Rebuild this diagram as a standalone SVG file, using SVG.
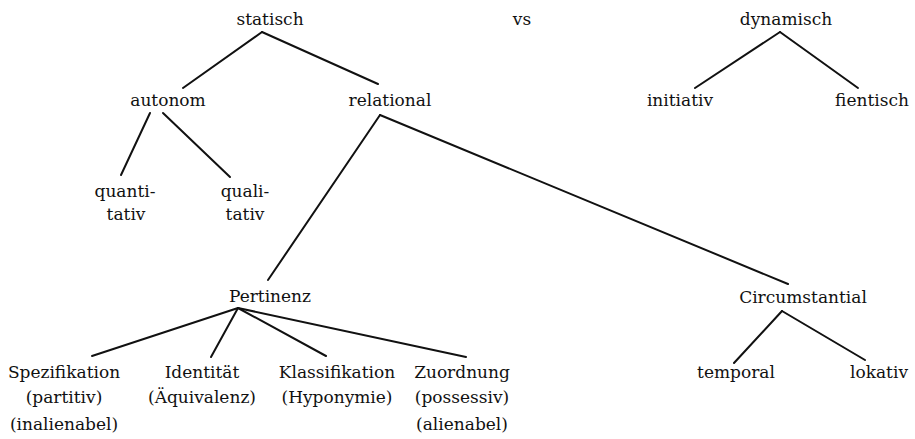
<svg xmlns="http://www.w3.org/2000/svg" width="915" height="439" viewBox="0 0 915 439">
<style>
text{font-family:"DejaVu Serif","Liberation Serif",serif;font-size:17px;fill:#111;text-anchor:middle}
.e line{stroke:#111;stroke-width:2;stroke-linecap:round}
</style>
<rect width="915" height="439" fill="#fff"/>
<g class="e" id="connectors">
<line x1="262" y1="32" x2="183" y2="88"/>
<line x1="262" y1="32" x2="378" y2="84"/>
<line x1="150" y1="113" x2="121" y2="175"/>
<line x1="163" y1="113" x2="230" y2="177"/>
<line x1="380" y1="115" x2="268" y2="280"/>
<line x1="380" y1="115" x2="788" y2="284"/>
<line x1="238" y1="308" x2="92" y2="356"/>
<line x1="238" y1="308" x2="211" y2="357"/>
<line x1="238" y1="308" x2="326" y2="356"/>
<line x1="238" y1="308" x2="466" y2="357"/>
<line x1="782" y1="311" x2="734" y2="363"/>
<line x1="782" y1="311" x2="865" y2="360"/>
<line x1="780" y1="32" x2="695" y2="88"/>
<line x1="780" y1="32" x2="858" y2="88"/>
</g>
<g id="statisch"><text x="270" y="25">statisch</text></g>
<g id="vs"><text x="522" y="25">vs</text></g>
<g id="dynamisch"><text x="786" y="25">dynamisch</text></g>
<g id="autonom"><text x="168" y="106">autonom</text></g>
<g id="relational"><text x="390" y="106">relational</text></g>
<g id="initiativ"><text x="680" y="106">initiativ</text></g>
<g id="fientisch"><text x="872" y="106">fientisch</text></g>
<g id="quantitativ"><text x="125" y="197">quanti-</text><text x="126" y="220">tativ</text></g>
<g id="qualitativ"><text x="245" y="197">quali-</text><text x="245" y="220">tativ</text></g>
<g id="Pertinenz"><text x="270" y="302">Pertinenz</text></g>
<g id="Circumstantial"><text x="803" y="303">Circumstantial</text></g>
<g id="Spezifikation"><text x="64" y="378">Spezifikation</text><text x="64" y="403">(partitiv)</text><text x="64" y="430">(inalienabel)</text></g>
<g id="Identitaet"><text x="202" y="378">Identität</text><text x="202" y="403">(Äquivalenz)</text></g>
<g id="Klassifikation"><text x="337" y="378">Klassifikation</text><text x="337" y="403">(Hyponymie)</text></g>
<g id="Zuordnung"><text x="462" y="378">Zuordnung</text><text x="462" y="403">(possessiv)</text><text x="462" y="430">(alienabel)</text></g>
<g id="temporal"><text x="736" y="378">temporal</text></g>
<g id="lokativ"><text x="879" y="378">lokativ</text></g>
</svg>
